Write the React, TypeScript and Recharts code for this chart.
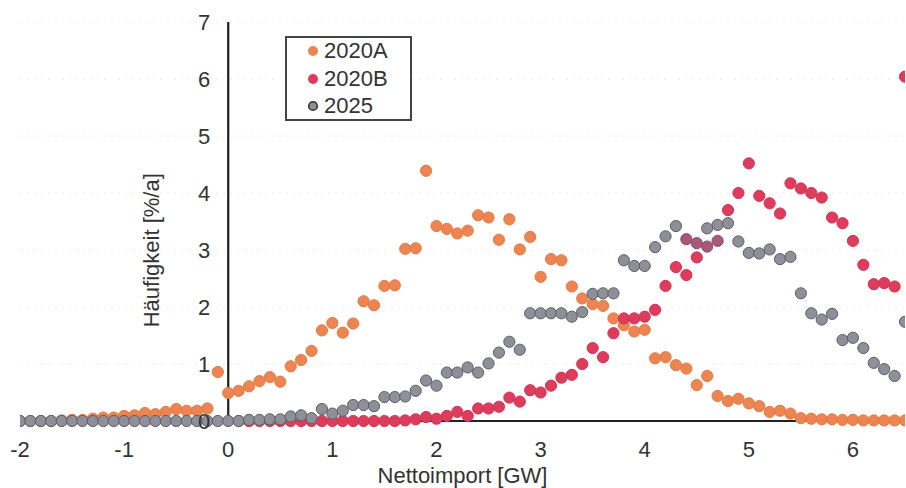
import React from 'react';
import {
  ScatterChart,
  Scatter,
  XAxis,
  YAxis,
  CartesianGrid,
  ReferenceLine,
  ReferenceDot,
  Legend,
  Cell,
} from 'recharts';

const FONT = '"Liberation Sans", Arial, Helvetica, sans-serif';
const TEXT = '#333';

// Nettoimport in GW, one point every 0.1 GW
const importGW = [
  -2.0, -1.9, -1.8, -1.7, -1.6, -1.5, -1.4, -1.3, -1.2, -1.1,
  -1.0, -0.9, -0.8, -0.7, -0.6, -0.5, -0.4, -0.3, -0.2, -0.1,
  0.0, 0.1, 0.2, 0.3, 0.4, 0.5, 0.6, 0.7, 0.8, 0.9,
  1.0, 1.1, 1.2, 1.3, 1.4, 1.5, 1.6, 1.7, 1.8, 1.9,
  2.0, 2.1, 2.2, 2.3, 2.4, 2.5, 2.6, 2.7, 2.8, 2.9,
  3.0, 3.1, 3.2, 3.3, 3.4, 3.5, 3.6, 3.7, 3.8, 3.9,
  4.0, 4.1, 4.2, 4.3, 4.4, 4.5, 4.6, 4.7, 4.8, 4.9,
  5.0, 5.1, 5.2, 5.3, 5.4, 5.5, 5.6, 5.7, 5.8, 5.9,
  6.0, 6.1, 6.2, 6.3, 6.4, 6.5,
];

// Häufigkeit in %/a
const share2020A = [
  0, 0, 0, 0, 0.01, 0.02, 0.02, 0.04, 0.06, 0.06,
  0.09, 0.1, 0.14, 0.12, 0.16, 0.21, 0.18, 0.18, 0.22, 0.86,
  0.49, 0.53, 0.61, 0.7, 0.77, 0.69, 0.96, 1.07, 1.23, 1.59,
  1.72, 1.55, 1.71, 2.1, 2.03, 2.37, 2.38, 3.02, 3.03, 4.39,
  3.42, 3.37, 3.29, 3.34, 3.61, 3.57, 3.18, 3.54, 3.01, 3.23,
  2.53, 2.84, 2.82, 2.36, 2.15, 2.05, 2.02, 1.8, 1.68, 1.57,
  1.6, 1.1, 1.12, 0.98, 0.92, 0.63, 0.79, 0.44, 0.35, 0.39,
  0.31, 0.26, 0.16, 0.18, 0.13, 0.05, 0.04, 0.03, 0.03, 0.02,
  0.02, 0.01, 0.01, 0.01, 0.01, 0.01,
];

const share2020B = [
  null, null, null, null, null, null, null, null, null, null,
  null, null, null, null, null, null, null, null, null, null,
  null, 0, 0, 0, 0, 0, 0, 0, 0, 0,
  0, 0, 0, 0, 0, 0, 0, 0.01, 0.03, 0.07,
  0.04, 0.09, 0.16, 0.09, 0.22, 0.22, 0.25, 0.41, 0.34, 0.54,
  0.5, 0.62, 0.76, 0.81, 1.0, 1.28, 1.12, 1.54, 1.8, 1.8,
  1.83, 1.95, 2.37, 2.7, 2.56, 2.87, 3.06, 3.16, 3.7, 4.0,
  4.52, 3.95, 3.82, 3.64, 4.17, 4.08, 4.0, 3.92, 3.57, 3.47,
  3.16, 2.74, 2.4, 2.42, 2.36, 6.04,
];

const share2025 = [
  0, 0, 0, 0, 0, 0, 0, 0, 0, 0,
  0, 0, 0, 0, 0, 0, 0, 0, 0, 0,
  0, 0, 0.02, 0.02, 0.03, 0.03, 0.08, 0.1, 0.05, 0.21,
  0.13, 0.18, 0.28, 0.28, 0.26, 0.42, 0.42, 0.43, 0.53, 0.71,
  0.62, 0.85, 0.85, 0.94, 0.85, 1.01, 1.2, 1.39, 1.25, 1.89,
  1.89, 1.89, 1.89, 1.83, 1.91, 2.23, 2.24, 2.24, 2.82, 2.72,
  2.72, 3.05, 3.24, 3.42, 3.19, 3.12, 3.38, 3.44, 3.47, 3.15,
  2.95, 2.94, 3.01, 2.84, 2.88, 2.24, 1.89, 1.78, 1.88, 1.42,
  1.46, 1.28, 1.02, 0.91, 0.79, 1.74,
];

// points that came out purple-ish in the print
const mixed2020B = [4.6, 4.7];
const mixed2025 = [4.4, 4.5];

const xTicks = [-2, -1, 0, 1, 2, 3, 4, 5, 6];
const yTicks = [0, 1, 2, 3, 4, 5, 6, 7];

const series = [
  { name: '2020A', values: share2020A, fill: '#ec8551', stroke: '#e47a45', mixed: [] as number[] },
  { name: '2020B', values: share2020B, fill: '#dd3c5d', stroke: '#d23454', mixed: mixed2020B },
  { name: '2025', values: share2025, fill: '#8e8f98', stroke: '#5d5e66', mixed: mixed2025 },
];

const MIXED = '#a8587a';

function toPoints(values: (number | null)[]) {
  return importGW
    .map((x, i) => ({ x, y: values[i] }))
    .filter((p) => p.y !== null && p.y !== undefined);
}

const Dot = (props: any) => {
  const { cx, cy, fill, stroke } = props;
  if (cx == null || cy == null) return null;
  return <circle cx={cx} cy={cy} r={5.6} fill={fill} stroke={stroke} strokeWidth={1} />;
};

function YTitle(props: any) {
  const vb = props.viewBox || {};
  const cx = vb.x - 69;
  const cy = vb.y + vb.height * 0.572;
  return (
    <text
      x={cx}
      y={cy}
      transform={`rotate(-90 ${cx} ${cy})`}
      textAnchor="middle"
      fill={TEXT}
      fontSize={22}
      fontFamily={FONT}
    >
      Häufigkeit [%/a]
    </text>
  );
}

function LegendBox() {
  return (
    <div
      style={{
        position: 'relative',
        width: 127,
        height: 85,
        boxSizing: 'border-box',
        border: '2.5px solid #444',
        background: '#fff',
        fontFamily: FONT,
        fontSize: 22,
        color: TEXT,
      }}
    >
      {series.map((s, i) => (
        <div
          key={s.name}
          style={{
            position: 'absolute',
            left: 20,
            top: 0 + i * 27.5,
            height: 26,
            lineHeight: '26px',
            display: 'flex',
            alignItems: 'center',
            whiteSpace: 'nowrap',
          }}
        >
          <svg width={12} height={12} style={{ marginRight: 5 }}>
            {s.name === '2025' ? (
              <circle cx={6} cy={6} r={4.3} fill={s.fill} stroke="#333" strokeWidth={1.6} />
            ) : (
              <circle cx={6} cy={6} r={5} fill={s.fill} />
            )}
          </svg>
          <span>{s.name}</span>
        </div>
      ))}
    </div>
  );
}

export default function App() {
  return (
    <div style={{ position: 'absolute', left: 0, top: 0, background: '#fff' }}>
      <ScatterChart width={906} height={488} margin={{ top: 22, right: 1, bottom: 0, left: 20 }}>
        <CartesianGrid vertical={false} stroke="#ececec" strokeDasharray="2 5" />
        <XAxis
          type="number"
          dataKey="x"
          domain={[-2, 6.5]}
          ticks={xTicks}
          allowDataOverflow
          height={67}
          tickLine={false}
          tickSize={0}
          tickMargin={20}
          axisLine={{ stroke: '#222', strokeWidth: 2 }}
          tick={{ fill: TEXT, fontSize: 22, fontFamily: FONT }}
          label={{
            value: 'Nettoimport [GW]',
            position: 'insideBottom',
            offset: 5,
            fill: TEXT,
            fontSize: 22,
            fontFamily: FONT,
          }}
        />
        <YAxis type="number" dataKey="y" domain={[0, 7]} ticks={yTicks} hide />
        <ReferenceLine
          x={0}
          stroke="#1e1e1e"
          strokeWidth={2.2}
          label={(p: any) => <YTitle {...p} />}
        />
        {series.map((s) => {
          const pts = toPoints(s.values);
          return (
            <Scatter
              key={s.name}
              name={s.name}
              data={pts}
              fill={s.fill}
              stroke={s.stroke}
              shape={Dot}
              isAnimationActive={false}
            >
              {pts.map((p) => (
                <Cell
                  key={p.x}
                  fill={s.mixed.includes(p.x) ? MIXED : s.fill}
                  stroke={s.mixed.includes(p.x) ? '#8e4a66' : s.stroke}
                />
              ))}
            </Scatter>
          );
        })}
        {yTicks.map((v) => (
          <ReferenceDot
            key={v}
            x={0}
            y={v}
            r={0}
            fill="none"
            stroke="none"
            label={{ value: String(v), position: 'left', offset: 18, fill: TEXT, fontSize: 22, fontFamily: FONT }}
          />
        ))}
        <Legend
          layout="vertical"
          align="center"
          verticalAlign="middle"
          wrapperStyle={{ left: 285, top: 36, width: 127 }}
          content={() => <LegendBox />}
        />
      </ScatterChart>
    </div>
  );
}
